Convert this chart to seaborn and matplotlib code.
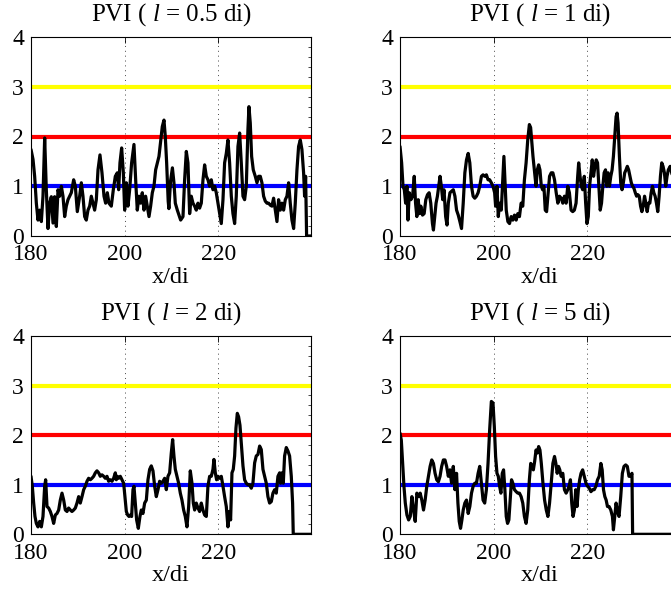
import matplotlib
matplotlib.use("Agg")
import matplotlib.pyplot as plt
import seaborn as sns
import pandas as pd
from matplotlib.ticker import MultipleLocator

# ---------------- data ----------------
titles = [r"PVI ( $l$ = 0.5 di)", r"PVI ( $l$ = 1 di)", r"PVI ( $l$ = 2 di)", r"PVI ( $l$ = 5 di)"]
thresholds = [1, 2, 3]
threshold_colors = ["#0000ff", "#ff0000", "#ffff00"]
xticks = [180, 200, 220]
yticks = [0, 1, 2, 3, 4]

x_l05 = [180.00, 180.43, 180.78, 181.14, 181.49, 181.85, 182.21, 182.56, 182.92, 183.27, 183.63, 183.99,
         184.34, 184.70, 185.05, 185.41, 185.77, 186.12, 186.48, 186.83, 187.19, 187.54, 187.90, 188.26,
         188.61, 189.11, 189.47, 189.89, 190.39, 190.75, 191.10, 191.46, 191.81, 192.17, 192.53, 192.88,
         193.24, 193.59, 193.95, 194.31, 194.73, 195.16, 195.59, 195.94, 196.30, 196.65, 197.15, 197.58,
         198.01, 198.43, 198.72, 199.00, 199.36, 199.72, 200.00, 200.36, 200.71, 201.07, 201.49, 201.99,
         202.42, 202.70, 203.06, 203.42, 203.77, 204.13, 204.48, 204.84, 205.20, 205.55, 205.91, 206.26,
         206.62, 206.98, 207.33, 207.69, 208.04, 208.40, 208.68, 208.97, 209.30, 209.45, 209.80, 210.20,
         210.53, 210.82, 211.25, 211.60, 211.96, 212.46, 212.81, 213.17, 213.52, 213.88, 214.23, 214.59,
         214.95, 215.30, 215.66, 216.01, 216.37, 216.73, 217.08, 217.44, 217.79, 218.15, 218.51, 218.86,
         219.22, 219.57, 219.93, 220.28, 220.64, 221.00, 221.35, 221.71, 222.06, 222.42, 222.78, 223.13,
         223.49, 223.84, 224.20, 224.56, 224.91, 225.27, 225.62, 225.98, 226.33, 226.55, 226.83, 227.12,
         227.47, 227.90, 228.26, 228.61, 228.97, 229.32, 229.68, 230.04, 230.39, 230.75, 231.10, 231.46,
         231.81, 232.17, 232.53, 232.88, 233.24, 233.59, 233.95, 234.31, 234.66, 235.02, 235.37, 235.73,
         236.09, 236.44, 236.80, 237.15, 237.51, 237.86, 238.22, 238.43, 238.65, 238.86, 239.90]
y_l05 = [1.74, 1.54, 1.20, 0.66, 0.32, 0.52, 0.29, 0.80, 1.97, 0.93, 0.15, 0.66,
         0.79, 0.26, 0.79, 0.19, 0.93, 0.80, 1.00, 0.80, 0.39, 0.60, 0.73, 0.80,
         0.87, 1.13, 1.00, 0.49, 0.80, 1.07, 0.80, 0.39, 0.32, 0.52, 0.60, 0.80,
         0.66, 0.52, 0.73, 1.33, 1.63, 1.27, 0.80, 0.66, 0.87, 0.66, 0.60, 0.93,
         1.20, 1.27, 0.93, 1.47, 1.77, 1.27, 0.52, 1.07, 0.60, 0.93, 1.47, 1.84,
         1.00, 0.52, 0.80, 0.66, 0.87, 0.52, 0.80, 0.60, 0.39, 0.60, 0.87, 1.00,
         1.33, 1.47, 1.60, 1.90, 2.20, 2.33, 2.00, 1.47, 0.70, 0.55, 1.10, 1.37,
         1.07, 0.66, 0.52, 0.42, 0.32, 0.39, 1.13, 1.70, 1.47, 0.45, 0.80, 0.66,
         0.60, 0.52, 0.66, 0.56, 0.66, 1.13, 1.43, 1.20, 1.13, 1.00, 1.13, 0.93,
         1.00, 0.87, 0.66, 0.45, 0.25, 0.73, 1.47, 1.66, 1.93, 1.47, 0.80, 0.45,
         0.25, 0.80, 1.80, 2.07, 1.47, 0.80, 0.73, 1.00, 2.14, 2.60, 2.27, 1.60,
         1.33, 1.20, 1.07, 1.20, 1.20, 1.07, 0.80, 0.70, 0.66, 0.66, 0.62, 0.60,
         0.76, 0.52, 0.29, 0.73, 0.52, 0.66, 0.52, 0.73, 0.80, 1.07, 0.66, 0.32,
         0.15, 0.66, 1.33, 1.80, 1.93, 1.74, 1.27, 0.80, 1.20, 0.00, 0.00]

x_l1 = [180.00, 180.35, 180.64, 180.92, 181.20, 181.48, 181.70, 181.98, 182.33, 182.69, 183.04, 183.32,
        183.60, 183.89, 184.17, 184.45, 184.81, 185.16, 185.51, 185.87, 186.22, 186.57, 186.93, 187.14,
        187.42, 187.70, 187.99, 188.27, 188.55, 188.83, 189.12, 189.40, 189.75, 190.04, 190.32, 190.67,
        191.02, 191.38, 191.73, 192.08, 192.44, 192.79, 193.14, 193.50, 193.85, 194.20, 194.56, 194.91,
        195.27, 195.62, 195.97, 196.33, 196.68, 197.03, 197.39, 197.74, 198.09, 198.45, 198.80, 199.15,
        199.51, 199.86, 200.21, 200.42, 200.71, 200.99, 201.27, 201.63, 201.98, 202.19, 202.40, 202.69,
        203.04, 203.39, 203.75, 204.10, 204.45, 204.81, 205.16, 205.51, 205.87, 206.22, 206.57, 206.93,
        207.28, 207.63, 207.90, 208.10, 208.40, 208.76, 209.05, 209.33, 209.61, 209.89, 210.18, 210.46,
        210.74, 211.02, 211.31, 211.59, 211.94, 212.30, 212.65, 213.00, 213.36, 213.71, 214.06, 214.42,
        214.77, 215.12, 215.48, 215.83, 216.18, 216.54, 216.89, 217.24, 217.60, 217.95, 218.16, 218.45,
        218.73, 219.01, 219.36, 219.65, 219.93, 220.21, 220.49, 220.78, 221.06, 221.34, 221.63, 221.91,
        222.19, 222.47, 222.76, 223.04, 223.32, 223.60, 223.89, 224.17, 224.45, 224.73, 225.02, 225.30,
        225.58, 225.87, 226.15, 226.36, 226.57, 226.86, 227.14, 227.42, 227.70, 227.99, 228.27, 228.55,
        228.83, 229.12, 229.40, 229.68, 229.96, 230.25, 230.53, 230.81, 231.10, 231.38, 231.66, 231.94,
        232.23, 232.51, 232.79, 233.07, 233.36, 233.64, 233.92, 234.21, 234.49, 234.77, 235.05, 235.34,
        235.62, 235.90, 236.18, 236.47, 236.75, 237.03, 237.31, 237.70, 238.20]
y_l1 = [1.80, 1.47, 1.00, 0.93, 0.66, 1.00, 0.32, 0.87, 0.73, 0.80, 1.20, 0.66,
        0.39, 0.73, 0.45, 0.60, 0.42, 0.45, 0.73, 0.83, 0.87, 0.66, 0.25, 0.12,
        0.39, 0.66, 0.80, 1.00, 1.20, 1.00, 0.73, 0.93, 0.39, 0.22, 0.66, 0.87,
        0.90, 0.93, 0.80, 0.52, 0.42, 0.29, 0.15, 0.66, 1.27, 1.53, 1.66, 1.47,
        1.00, 0.80, 0.76, 0.80, 0.87, 1.00, 1.20, 1.23, 1.20, 1.23, 1.13, 1.13,
        1.07, 1.00, 0.87, 0.60, 1.00, 0.39, 0.66, 0.52, 1.20, 1.60, 1.13, 0.52,
        0.29, 0.25, 0.39, 0.32, 0.42, 0.32, 0.45, 0.39, 0.66, 0.60, 1.13, 1.47,
        1.93, 2.24, 2.18, 1.95, 1.60, 1.27, 1.00, 1.33, 1.43, 1.33, 1.00, 0.93,
        1.00, 0.52, 0.49, 0.80, 1.20, 1.27, 1.27, 1.13, 0.87, 0.66, 0.80, 0.76,
        0.66, 0.80, 0.66, 1.00, 0.87, 0.52, 0.49, 0.52, 0.66, 1.20, 1.47, 1.20,
        1.00, 0.93, 1.20, 0.66, 0.25, 0.39, 1.00, 1.27, 1.53, 1.20, 1.40, 1.53,
        1.47, 1.00, 0.52, 0.66, 1.00, 1.27, 1.33, 1.00, 1.27, 1.00, 1.20, 1.33,
        1.60, 2.00, 2.40, 2.47, 2.27, 1.60, 1.07, 0.93, 1.07, 1.27, 1.33, 1.40,
        1.33, 1.20, 1.07, 1.00, 0.96, 0.87, 0.80, 0.83, 0.80, 0.60, 0.49, 0.60,
        0.80, 0.66, 0.49, 0.66, 0.66, 0.87, 1.00, 0.87, 0.80, 0.66, 0.49, 0.80,
        1.20, 1.47, 1.40, 1.27, 1.00, 1.20, 1.33, 1.40, 1.20]

x_l2 = [180.00, 180.28, 180.57, 180.85, 181.14, 181.49, 181.85, 182.21, 182.56, 182.92, 183.13, 183.42,
        183.77, 184.13, 184.48, 184.84, 185.20, 185.55, 185.91, 186.26, 186.62, 186.98, 187.33, 187.69,
        188.04, 188.40, 188.75, 189.11, 189.47, 189.82, 190.18, 190.53, 190.89, 191.25, 191.60, 191.96,
        192.31, 192.67, 193.02, 193.38, 193.74, 194.09, 194.45, 194.80, 195.16, 195.52, 195.87, 196.23,
        196.58, 196.94, 197.30, 197.65, 198.01, 198.22, 198.43, 198.72, 199.07, 199.43, 199.79, 200.07,
        200.36, 200.64, 200.93, 201.21, 201.49, 201.78, 201.99, 202.28, 202.56, 202.92, 203.27, 203.56,
        203.91, 204.27, 204.63, 204.98, 205.34, 205.69, 206.05, 206.41, 206.76, 207.12, 207.47, 207.83,
        208.19, 208.54, 208.90, 209.25, 209.61, 209.96, 210.25, 210.53, 210.82, 211.17, 211.53, 211.89,
        212.24, 212.60, 212.95, 213.31, 213.67, 214.02, 214.38, 214.66, 214.95, 215.30, 215.66, 216.01,
        216.37, 216.73, 217.08, 217.44, 217.79, 218.15, 218.51, 218.86, 219.07, 219.36, 219.64, 219.93,
        220.28, 220.64, 221.00, 221.35, 221.71, 222.06, 222.35, 222.63, 222.92, 223.20, 223.49, 223.77,
        224.06, 224.34, 224.63, 224.91, 225.27, 225.62, 225.98, 226.33, 226.69, 227.05, 227.40, 227.76,
        228.11, 228.47, 228.83, 229.18, 229.54, 229.89, 230.25, 230.60, 230.96, 231.32, 231.67, 232.03,
        232.38, 232.74, 233.10, 233.31, 233.59, 233.88, 234.16, 234.52, 234.88, 235.23, 235.59, 235.87,
        236.01, 239.90]
y_l2 = [1.17, 0.97, 0.63, 0.36, 0.22, 0.15, 0.26, 0.15, 0.36, 0.97, 1.10, 0.56,
        0.53, 0.46, 0.36, 0.22, 0.39, 0.42, 0.49, 0.69, 0.83, 0.69, 0.49, 0.46,
        0.53, 0.49, 0.46, 0.49, 0.53, 0.63, 0.76, 0.63, 0.76, 0.90, 0.97, 1.07,
        1.13, 1.10, 1.13, 1.17, 1.24, 1.28, 1.24, 1.17, 1.20, 1.17, 1.13, 1.17,
        1.07, 1.10, 1.07, 1.13, 1.24, 1.10, 1.17, 1.13, 1.17, 1.10, 1.03, 0.76,
        0.46, 0.39, 0.36, 0.39, 0.36, 0.90, 0.97, 0.63, 0.29, 0.12, 0.36, 0.49,
        0.42, 0.63, 0.69, 1.10, 1.31, 1.38, 1.28, 0.97, 0.76, 0.90, 1.07, 1.03,
        1.07, 1.13, 0.90, 1.17, 1.24, 1.64, 1.91, 1.58, 1.31, 1.17, 1.03, 0.83,
        0.69, 0.49, 0.36, 0.15, 0.56, 1.28, 1.03, 0.63, 0.49, 0.63, 0.53, 0.46,
        0.63, 0.49, 0.39, 0.36, 0.97, 1.17, 1.17, 1.31, 1.51, 1.24, 1.10, 1.17,
        1.13, 1.17, 0.97, 0.76, 0.56, 0.15, 0.46, 0.29, 1.24, 1.31, 1.58, 2.14,
        2.44, 2.37, 2.20, 1.84, 1.38, 1.10, 1.03, 1.00, 1.00, 0.93, 1.03, 1.44,
        1.58, 1.61, 1.78, 1.71, 1.31, 1.17, 1.03, 0.76, 0.63, 0.66, 0.83, 0.90,
        0.83, 1.17, 1.24, 1.03, 1.24, 1.03, 1.58, 1.75, 1.68, 1.58, 1.17, 0.63,
        0.00, 0.00]

x_l5 = [180.00, 180.28, 180.57, 180.85, 181.13, 181.48, 181.84, 182.19, 182.54, 182.90, 183.25, 183.60,
        183.96, 184.31, 184.66, 185.02, 185.37, 185.72, 186.08, 186.43, 186.78, 187.14, 187.49, 187.84,
        188.20, 188.55, 188.90, 189.26, 189.61, 189.96, 190.32, 190.67, 191.02, 191.38, 191.73, 192.08,
        192.37, 192.65, 192.93, 193.22, 193.50, 193.85, 194.20, 194.56, 194.91, 195.27, 195.62, 195.97,
        196.33, 196.68, 197.03, 197.39, 197.74, 198.09, 198.45, 198.80, 199.15, 199.51, 199.86, 200.14,
        200.42, 200.71, 200.99, 201.27, 201.55, 201.84, 202.12, 202.40, 202.69, 202.97, 203.25, 203.53,
        203.82, 204.10, 204.45, 204.81, 205.16, 205.51, 205.87, 206.22, 206.57, 206.93, 207.28, 207.63,
        207.92, 208.20, 208.48, 208.76, 209.05, 209.33, 209.61, 209.89, 210.18, 210.53, 210.88, 211.24,
        211.59, 211.94, 212.30, 212.65, 213.00, 213.29, 213.57, 213.85, 214.13, 214.42, 214.77, 215.12,
        215.48, 215.83, 216.11, 216.40, 216.68, 216.96, 217.24, 217.53, 217.81, 218.09, 218.37, 218.66,
        219.01, 219.36, 219.72, 220.07, 220.42, 220.78, 221.13, 221.48, 221.84, 222.19, 222.54, 222.90,
        223.18, 223.46, 223.75, 224.03, 224.31, 224.66, 225.02, 225.37, 225.58, 225.87, 226.15, 226.43,
        226.78, 227.14, 227.49, 227.84, 228.20, 228.55, 228.90, 229.26, 229.54, 229.68, 239.90]
y_l5 = [2.04, 1.90, 1.43, 0.96, 0.63, 0.39, 0.29, 0.36, 0.76, 0.49, 0.26, 0.83,
        0.76, 0.83, 0.69, 0.49, 0.69, 0.97, 1.17, 1.37, 1.50, 1.43, 1.23, 1.10,
        1.06, 1.17, 1.37, 1.50, 1.50, 1.37, 1.17, 1.30, 1.03, 1.37, 0.90, 1.23,
        0.63, 0.26, 0.12, 0.29, 0.49, 0.63, 0.69, 0.42, 0.56, 0.83, 0.97, 1.03,
        1.03, 1.23, 1.37, 1.03, 0.69, 0.63, 0.90, 1.43, 2.11, 2.68, 2.65, 2.18,
        1.57, 1.23, 1.17, 0.97, 0.83, 1.23, 1.30, 0.90, 0.36, 0.22, 0.29, 0.69,
        1.10, 1.03, 0.90, 0.86, 0.83, 0.83, 0.76, 0.63, 0.36, 0.22, 0.49, 1.10,
        1.43, 1.37, 1.30, 1.47, 1.70, 1.64, 1.77, 1.70, 1.43, 1.03, 0.69, 0.49,
        0.36, 0.63, 1.03, 1.43, 1.57, 1.43, 1.23, 1.37, 1.30, 1.17, 1.23, 0.90,
        0.83, 0.90, 0.97, 1.10, 0.63, 0.36, 0.49, 0.90, 0.56, 0.90, 1.10, 1.23,
        1.30, 1.17, 1.03, 0.97, 0.93, 0.86, 0.90, 0.90, 0.97, 1.10, 1.17, 1.43,
        1.30, 0.90, 0.76, 0.69, 0.56, 0.56, 0.49, 0.36, 0.09, 0.36, 0.63, 0.46,
        0.36, 0.76, 1.23, 1.37, 1.40, 1.37, 1.17, 1.17, 1.23, 0.00, 0.00]

series = [(x_l05, y_l05), (x_l1, y_l1), (x_l2, y_l2), (x_l5, y_l5)]

# ---------------- style ----------------
sns.set_theme(style="white")
plt.rcParams["font.family"] = ["Liberation Serif", "DejaVu Serif"]
plt.rcParams["mathtext.fontset"] = "custom"
plt.rcParams["mathtext.rm"] = "Liberation Serif"
plt.rcParams["mathtext.it"] = "Liberation Serif:italic"

fig = plt.figure(figsize=(6.71, 5.99), dpi=100)

W, H = 671.0, 599.0
ax_w = 280 / W
ax_h_top = 199 / H
ax_h_bot = 198.3 / H
positions = [
    [31 / W, 1 - 236 / H, ax_w, ax_h_top],
    [400 / W, 1 - 236 / H, ax_w, ax_h_top],
    [31 / W, 1 - 534.3 / H, ax_w, ax_h_bot],
    [400 / W, 1 - 534.3 / H, ax_w, ax_h_bot],
]

for pos, title, (xs, ys) in zip(positions, titles, series):
    ax = fig.add_axes(pos)
    for lev, col in zip(thresholds, threshold_colors):
        ax.axhline(lev, color=col, lw=3.0, zorder=2)
    df = pd.DataFrame({"x": xs, "pvi": ys})
    sns.lineplot(data=df, x="x", y="pvi", ax=ax, color="black", lw=2.3,
                 estimator=None, sort=False, zorder=3)
    ax.set_xlim(180, 239.8)
    ax.set_ylim(0, 4)
    ax.set_xticks(xticks)
    ax.set_yticks(yticks)
    ax.yaxis.set_minor_locator(MultipleLocator(0.2))
    ax.xaxis.grid(True, which="major", linestyle=(0, (1, 4)), color="#444444", lw=0.7)
    ax.yaxis.grid(False)
    ax.tick_params(axis="both", which="both", direction="in", top=True, right=True,
                   labelsize=17, colors="black")
    ax.tick_params(axis="both", which="major", length=4, width=0.6)
    ax.tick_params(axis="y", which="minor", length=2, width=0.5)
    ax.tick_params(axis="x", which="major", pad=6)
    ax.tick_params(axis="y", which="major", pad=5)
    for sp in ax.spines.values():
        sp.set_color("black")
        sp.set_linewidth(0.8)
    ax.set_xlabel("x/di", fontsize=17.5, labelpad=1, color="black")
    ax.set_ylabel("")
    ax.set_title(title, fontsize=18, pad=12, color="black")

fig.savefig("out.png", dpi=100)
